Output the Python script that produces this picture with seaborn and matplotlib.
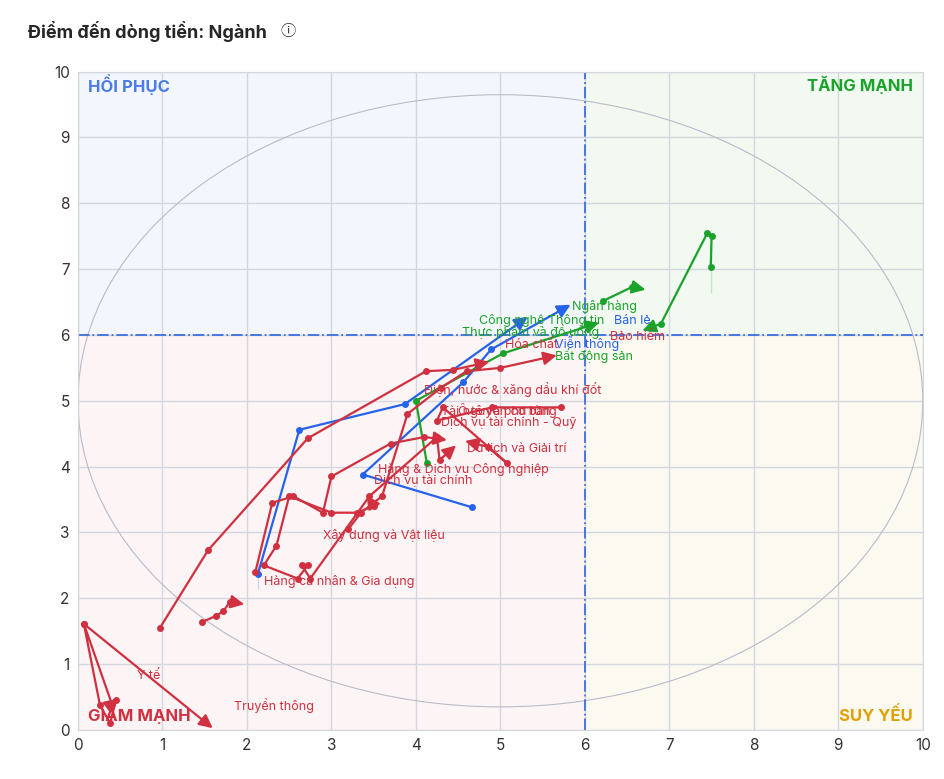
import pandas as pd
import seaborn as sns
import matplotlib.pyplot as plt
from matplotlib.patches import Rectangle, Ellipse

RED = "#d0303f"
GREEN = "#1aa32a"
BLUE = "#2563eb"

# trajectories (rs-ratio, rs-momentum), last point = arrow head
series_names = ["s1", "s2", "s3", "s4", "s5", "s6", "s7", "s8", "s9", "s10", "s11", "s12", "s13", "s14"]
series_colors = [BLUE, BLUE, GREEN, GREEN, GREEN, RED, RED, RED, RED, RED, RED, RED, RED, RED]
series_x = [
    [4.67, 3.37, 4.56, 4.89, 5.86],
    [2.13, 2.13, 2.62, 3.87, 5.35],
    [4.13, 4.0, 5.03, 6.2],
    [7.49, 7.5, 7.45, 7.49, 6.9, 6.65],
    [6.22, 6.56, 6.75],
    [0.97, 1.54, 2.72, 4.12, 4.44, 4.9],
    [0.07, 1.62],
    [0.45, 0.38, 0.26, 0.07, 0.4, 0.5],
    [1.47, 1.63, 1.72, 1.8, 2.0],
    [5.72, 4.9, 4.25, 4.32, 5.08, 4.85, 4.55],
    [2.72, 2.6, 2.2, 2.35, 2.5, 3.0, 3.3, 3.5, 3.4],
    [2.1, 2.3, 2.55, 2.9, 3.0, 3.7, 4.1, 4.4],
    [3.2, 3.35, 3.6, 3.9, 4.3, 4.6, 5.0, 5.7],
    [2.65, 2.75, 3.45, 4.25, 4.28, 4.5],
]
series_y = [
    [3.38, 3.88, 5.28, 5.78, 6.48],
    [2.14, 2.6, 4.56, 4.95, 6.3],
    [4.05, 5.0, 5.72, 6.2],
    [6.63, 7.5, 7.55, 7.45, 6.17, 6.05],
    [6.52, 6.73, 6.68],
    [1.55, 2.73, 4.43, 5.45, 5.47, 5.6],
    [1.61, 0.0],
    [0.45, 0.1, 0.38, 1.61, 0.4, 0.5],
    [1.64, 1.73, 1.8, 1.95, 1.9],
    [4.9, 4.9, 4.7, 4.9, 4.05, 4.3, 4.4],
    [2.5, 2.3, 2.5, 2.8, 3.55, 3.3, 3.3, 3.4, 3.6],
    [2.4, 3.45, 3.55, 3.3, 3.85, 4.35, 4.45, 4.4],
    [3.05, 3.3, 3.55, 4.8, 5.2, 5.45, 5.5, 5.7],
    [2.5, 2.3, 3.55, 4.45, 4.1, 4.35],
]

label_names = ["Ngân hàng", "Công nghệ Thông tin", "Bán lẻ", "Thực phẩm và đồ uống", "Bảo hiểm",
               "Hóa chất", "Viễn thông", "Bất động sản", "Điện, nước & xăng dầu khí đốt",
               "Tài nguyên cơ bản", "Ô tô và phụ tùng", "Dịch vụ tài chính - Quỹ", "Du lịch và Giải trí",
               "Hàng & Dịch vụ Công nghiệp", "Dịch vụ tài chính", "Xây dựng và Vật liệu",
               "Hàng cá nhân & Gia dụng", "Y tế", "Truyền thông"]
label_x = [5.85, 4.75, 6.35, 4.55, 6.3, 5.05, 5.65, 5.65, 4.1, 4.3, 4.5, 4.3, 4.6, 3.55, 3.5,
           2.9, 2.2, 0.7, 1.85]
label_y = [6.38, 6.16, 6.16, 5.98, 5.93, 5.8, 5.8, 5.62, 5.1, 4.78, 4.78, 4.62, 4.22, 3.9, 3.73,
           2.9, 2.2, 0.78, 0.3]
label_colors = [GREEN, GREEN, BLUE, GREEN, RED, RED, BLUE, GREEN, RED, RED, RED, RED, RED, RED,
                RED, RED, RED, RED, RED]

sns.set_style("white")
plt.rcParams["font.family"] = ["Inter", "DejaVu Sans"]

fig = plt.figure(figsize=(9.45, 7.79), dpi=100)
ax = fig.add_axes([0.0825, 0.063, 0.894, 0.845])
ax.set_xlim(0, 10)
ax.set_ylim(0, 10)

ax.add_patch(Rectangle((0, 6), 6, 4, color="#f3f7fd", zorder=0))
ax.add_patch(Rectangle((6, 6), 4, 4, color="#f1f9f1", zorder=0))
ax.add_patch(Rectangle((0, 0), 6, 6, color="#fcf4f5", zorder=0))
ax.add_patch(Rectangle((6, 0), 4, 6, color="#fcf9f1", zorder=0))
ax.add_patch(Ellipse((5, 5), 10, 9.3, fill=False, ec="#b8bcc8", lw=0.8, zorder=1))

ax.set_xticks(range(11))
ax.set_yticks(range(11))
ax.grid(True, color="#d4d7de", lw=1)
ax.set_axisbelow(True)
for s in ax.spines.values():
    s.set_color("#d4d7de")
ax.tick_params(length=0, labelsize=11, colors="#333333", pad=6)
ax.axvline(6, color="#3b6fe0", ls="-.", lw=1.3, zorder=2)
ax.axhline(6, color="#3b6fe0", ls="-.", lw=1.3, zorder=2)

for name, c, xs, ys in zip(series_names, series_colors, series_x, series_y):
    df = pd.DataFrame({"x": xs[:-1], "y": ys[:-1]})
    sns.lineplot(data=df, x="x", y="y", sort=False, color=c, lw=1.6, marker="o",
                 markersize=5, markeredgewidth=0, ax=ax, zorder=3)
    ax.annotate("", xy=(xs[-1], ys[-1]), xytext=(xs[-2], ys[-2]),
                arrowprops=dict(arrowstyle="-|>,head_length=0.8,head_width=0.4", color=c, lw=1.6),
                zorder=3)

for t, x, y, c in zip(label_names, label_x, label_y, label_colors):
    ax.text(x, y, t, color=c, fontsize=9, zorder=4)

ax.text(0.12, 9.8, "HỒI PHỤC", color="#4a7be6", fontsize=12, fontweight="bold", va="center")
ax.text(9.88, 9.8, "TĂNG MẠNH", color="#1aa32a", fontsize=12, fontweight="bold", va="center", ha="right")
ax.text(0.12, 0.22, "GIẢM MẠNH", color=RED, fontsize=12, fontweight="bold", va="center")
ax.text(9.88, 0.22, "SUY YẾU", color="#e0a000", fontsize=12, fontweight="bold", va="center", ha="right")
ax.set_xlabel("")
ax.set_ylabel("")

fig.text(0.03, 0.96, "Điểm đến dòng tiền: Ngành", fontsize=13, fontweight="bold", va="center")
fig.text(0.297, 0.96, "ⓘ", fontsize=11, va="center", color="#333333",
         family=["Noto Sans CJK SC", "Noto Sans", "DejaVu Sans"])

fig.savefig("out.png")
